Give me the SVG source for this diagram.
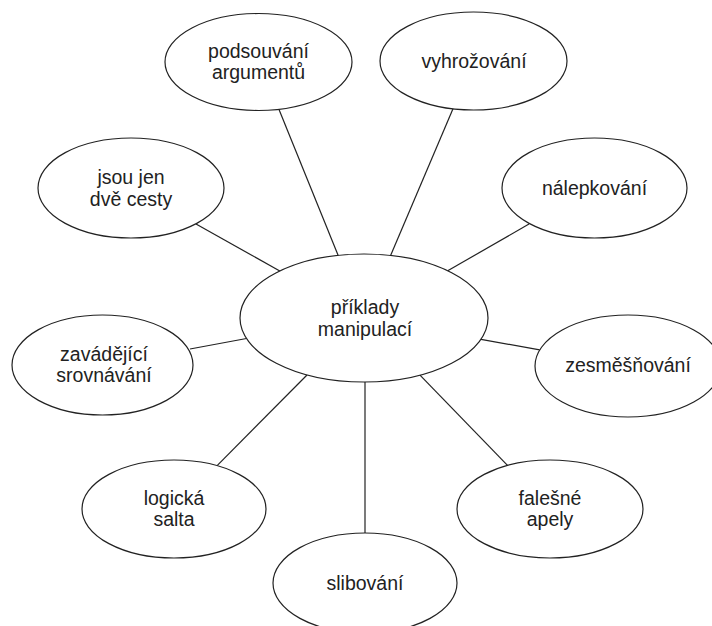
<svg xmlns="http://www.w3.org/2000/svg" width="712" height="626" viewBox="0 0 712 626">
  <style>
    .node ellipse { fill: #ffffff; stroke: #222222; stroke-width: 1.2; }
    .node text { font-family: "Liberation Sans", Arial, Helvetica, sans-serif; font-size: 19.5px; fill: #222222; text-anchor: middle; }
    #connectors line { stroke: #222222; stroke-width: 1.2; }
  </style>
  <rect x="0" y="0" width="712" height="626" fill="#ffffff"/>
  <g id="connectors">
    <line x1="279.8" y1="271" x2="196" y2="224"/>
    <line x1="338.2" y1="255.4" x2="279" y2="109.5"/>
    <line x1="390.6" y1="255.5" x2="453" y2="108.8"/>
    <line x1="447.7" y1="270.8" x2="529" y2="224"/>
    <line x1="481" y1="339.3" x2="539.7" y2="349.9"/>
    <line x1="246.5" y1="338.5" x2="190" y2="349"/>
    <line x1="307" y1="375" x2="217.1" y2="465.7"/>
    <line x1="365" y1="382" x2="365" y2="533"/>
    <line x1="420" y1="375.2" x2="507.5" y2="465.4"/>
  </g>
  <g id="center" class="node">
    <ellipse cx="364" cy="318" rx="124" ry="64"/>
    <text x="365" y="314">příklady</text>
    <text x="365" y="335.5">manipulací</text>
  </g>
  <g id="podsouvani" class="node">
    <ellipse cx="258.5" cy="62" rx="93.5" ry="48.5"/>
    <text x="258.5" y="57.5">podsouvání</text>
    <text x="258.5" y="79">argumentů</text>
  </g>
  <g id="vyhrozovani" class="node">
    <ellipse cx="473.5" cy="61" rx="93.5" ry="49"/>
    <text x="474" y="67.5">vyhrožování</text>
  </g>
  <g id="nalepkovani" class="node">
    <ellipse cx="594.5" cy="188" rx="92.5" ry="50"/>
    <text x="594.5" y="194.5">nálepkování</text>
  </g>
  <g id="jsou-jen" class="node">
    <ellipse cx="131" cy="188" rx="93" ry="50"/>
    <text x="131" y="184">jsou jen</text>
    <text x="131" y="205.5">dvě cesty</text>
  </g>
  <g id="zavadejici" class="node">
    <ellipse cx="102.5" cy="365" rx="90.5" ry="50"/>
    <text x="104" y="360.5">zavádějící</text>
    <text x="104" y="382">srovnávání</text>
  </g>
  <g id="zesmesnovani" class="node">
    <ellipse cx="628" cy="366" rx="93" ry="51"/>
    <text x="628" y="372">zesměšňování</text>
  </g>
  <g id="logicka-salta" class="node">
    <ellipse cx="174" cy="509" rx="92" ry="49"/>
    <text x="174" y="504.5">logická</text>
    <text x="174" y="526">salta</text>
  </g>
  <g id="falesne-apely" class="node">
    <ellipse cx="550" cy="509" rx="93" ry="49"/>
    <text x="550" y="504.5">falešné</text>
    <text x="550" y="526">apely</text>
  </g>
  <g id="slibovani" class="node">
    <ellipse cx="365" cy="583" rx="92" ry="50"/>
    <text x="365" y="589.5">slibování</text>
  </g>
</svg>
